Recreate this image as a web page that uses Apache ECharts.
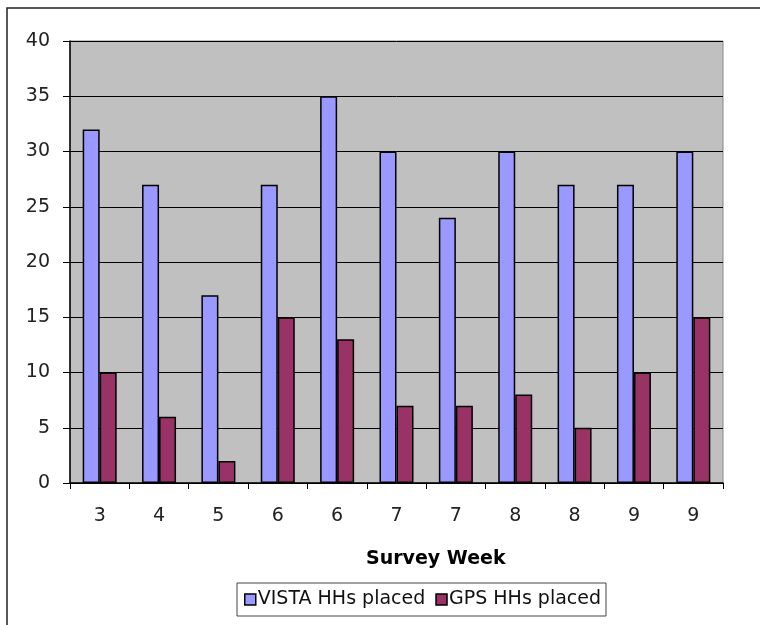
<!DOCTYPE html>
<html><head><meta charset="utf-8">
<script src="https://cdn.jsdelivr.net/npm/echarts@6/dist/echarts.min.js"></script>
<style>html,body{margin:0;padding:0;background:#fff}#c{width:760px;height:625px}</style>
</head><body><div id="c"></div>
<script>
const categories = ["3","4","5","6","6","7","7","8","8","9","9"];
const vistaValues = [32,27,17,27,35,30,24,30,27,27,30];
const gpsValues = [10,6,2,15,13,7,7,8,5,10,15];
const yTicks = {min:0, max:40, interval:5};
const FONT = "DejaVu Sans";
const chart = echarts.init(document.getElementById('c'), null, {renderer:'canvas'});
chart.setOption({
  animation:false,
  backgroundColor:'#fff',
  textStyle:{fontFamily:FONT},
  title:{text:'Survey Week',left:366,top:550,padding:0,
    textStyle:{fontFamily:FONT,fontSize:19,fontWeight:'bold',color:'#000'}},
  graphic:[{type:'rect',shape:{x:7,y:8,width:900,height:800},style:{fill:'none',stroke:'#222',lineWidth:1.5},z:-1}],
  grid:{left:70,top:41,right:37,bottom:142,show:true,backgroundColor:'#C0C0C0',borderColor:'#888',borderWidth:1},
  legend:{
    bottom:9,left:237,
    itemWidth:11,itemHeight:11,itemGap:10,
    icon:'rect',
    borderColor:'#444',borderWidth:1,padding:[7,5,7,7],
    textStyle:{fontFamily:FONT,fontSize:19,color:'#111',padding:[0,0,0,-3]},
    data:[{name:'VISTA HHs placed',itemStyle:{borderColor:'#000',borderWidth:1.5}},{name:'GPS HHs placed',itemStyle:{borderColor:'#000',borderWidth:1.5}}]
  },
  xAxis:{
    type:'category',data:categories,
    axisLine:{lineStyle:{color:'#000',width:1.5}},
    axisTick:{show:true,length:6,lineStyle:{color:'#000'},alignWithLabel:false},
    axisLabel:{fontFamily:FONT,fontSize:19,color:'#222',margin:24,interval:0}
  },
  yAxis:{
    type:'value',min:yTicks.min,max:yTicks.max,interval:yTicks.interval,
    axisLine:{show:true,lineStyle:{color:'#000',width:1.5}},
    axisTick:{show:true,length:7,lineStyle:{color:'#000'}},
    splitLine:{show:true,lineStyle:{color:'#000',width:1}},
    axisLabel:{fontFamily:FONT,fontSize:19,color:'#222',margin:20}
  },
  series:[
    {name:'VISTA HHs placed',type:'bar',data:vistaValues,barWidth:17,barGap:'0%',
     itemStyle:{color:'#9999FF',borderColor:'#000',borderWidth:1.5}},
    {name:'GPS HHs placed',type:'bar',data:gpsValues,barWidth:17,barGap:'0%',
     itemStyle:{color:'#993366',borderColor:'#000',borderWidth:1.5}}
  ]
});
</script></body></html>
